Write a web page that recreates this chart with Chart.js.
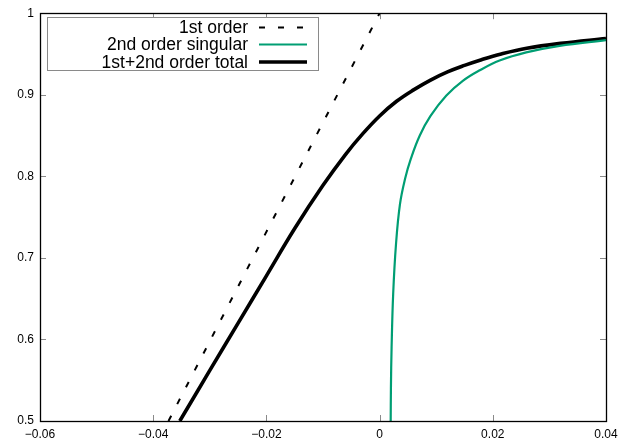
<!DOCTYPE html>
<html>
<head>
<meta charset="utf-8">
<script src="https://cdn.jsdelivr.net/npm/chart.js@4"></script>
<style>
	html, body { margin: 0; padding: 0; background: #fff; }
	canvas { display: block; }
</style>
</head>
<body>
<canvas id="chart" width="626" height="444"></canvas>
<script>
// values
const xTicks = [-0.06, -0.04, -0.02, 0, 0.02, 0.04];
const yTicks = [0.5, 0.6, 0.7, 0.8, 0.9, 1];

const seriesLabels = ['1st order', '2nd order singular', '1st+2nd order total'];

const firstOrderX = [-0.0373, 0];
const firstOrderY = [0.5, 1.0];

const singularX = [0.00196, 0.0020, 0.00212, 0.0024, 0.0029, 0.0036, 0.0045, 0.0055,
	0.0071, 0.0090, 0.0118, 0.0147, 0.0177, 0.0212, 0.0259, 0.0318, 0.0400];
const singularY = [0.50, 0.54, 0.59, 0.656, 0.717, 0.766, 0.797, 0.821,
	0.850, 0.874, 0.899, 0.917, 0.930, 0.942, 0.952, 0.960, 0.967];

const totalX = [-0.0353, -0.0300, -0.0250, -0.0200, -0.0150, -0.0100, -0.0060, -0.0030,
	0, 0.0030, 0.0060, 0.0090, 0.0120, 0.0150, 0.0180, 0.0215, 0.0260, 0.0320, 0.0400];
const totalY = [0.500, 0.562, 0.620, 0.678, 0.736, 0.789, 0.827, 0.852,
	0.874, 0.892, 0.906, 0.918, 0.928, 0.936, 0.943, 0.950, 0.957, 0.963, 0.969];

const FONT = "'Liberation Sans', Arial, Helvetica, sans-serif";

function toPoints(xs, ys) {
	return xs.map((x, i) => ({ x: x, y: ys[i] }));
}

function fmt(v, digits) {
	if (Math.abs(v) < 1e-9) return '0';
	if (Math.abs(v - 1) < 1e-9) return '1';
	return v.toFixed(digits).replace('-', '\u2212');
}

// gnuplot style frame: black border, short grey ticks pointing inward on all sides
const framePlugin = {
	id: 'frame',
	afterDatasetsDraw(chart) {
		const ctx = chart.ctx;
		const a = chart.chartArea;
		const xs = chart.scales.x, ys = chart.scales.y;
		const len = 6;
		ctx.save();
		ctx.strokeStyle = '#8a8a8a';
		ctx.lineWidth = 1;
		ctx.beginPath();
		xs.ticks.forEach((t) => {
			const px = Math.round(xs.getPixelForValue(t.value)) + 0.5;
			ctx.moveTo(px, a.bottom); ctx.lineTo(px, a.bottom - len);
			ctx.moveTo(px, a.top); ctx.lineTo(px, a.top + len);
		});
		ys.ticks.forEach((t) => {
			const py = Math.round(ys.getPixelForValue(t.value)) + 0.5;
			ctx.moveTo(a.left, py); ctx.lineTo(a.left + len, py);
			ctx.moveTo(a.right, py); ctx.lineTo(a.right - len, py);
		});
		ctx.stroke();
		ctx.strokeStyle = '#000';
		ctx.lineWidth = 1.3;
		ctx.strokeRect(Math.round(a.left) + 0.5, Math.round(a.top) + 0.5,
			Math.round(a.right - a.left), Math.round(a.bottom - a.top));
		ctx.restore();
	}
};

// key in the top left corner, text right-aligned with the sample line after it
const keyPlugin = {
	id: 'key',
	afterDraw(chart) {
		const ctx = chart.ctx;
		const box = { left: 47.5, top: 17.5, width: 271, height: 53 };
		const textRight = 248;
		const sampleLeft = 259, sampleRight = 307;
		const rowY = [27.5, 44.5, 62];
		ctx.save();
		ctx.fillStyle = '#fff';
		ctx.fillRect(box.left, box.top, box.width, box.height);
		ctx.strokeStyle = '#8a8a8a';
		ctx.lineWidth = 1;
		ctx.strokeRect(box.left, box.top, box.width, box.height);
		ctx.font = '17.5px ' + FONT;
		ctx.textAlign = 'right';
		ctx.textBaseline = 'middle';
		chart.data.datasets.forEach((ds, i) => {
			ctx.fillStyle = '#000';
			ctx.fillText(ds.label, textRight, rowY[i] + 1);
			ctx.strokeStyle = ds.borderColor;
			ctx.lineWidth = ds.borderWidth;
			ctx.setLineDash(ds.borderDash || []);
			ctx.beginPath();
			ctx.moveTo(sampleLeft, rowY[i]);
			ctx.lineTo(sampleRight, rowY[i]);
			ctx.stroke();
			ctx.setLineDash([]);
		});
		ctx.restore();
	}
};

new Chart(document.getElementById('chart'), {
	type: 'line',
	data: {
		datasets: [
			{
				label: seriesLabels[0],
				data: toPoints(firstOrderX, firstOrderY),
				borderColor: '#000',
				borderWidth: 2,
				borderDash: [6, 13],
				tension: 0
			},
			{
				label: seriesLabels[1],
				data: toPoints(singularX, singularY),
				borderColor: '#009e73',
				borderWidth: 2.2,
				tension: 0.4
			},
			{
				label: seriesLabels[2],
				data: toPoints(totalX, totalY),
				borderColor: '#000',
				borderWidth: 3.6,
				tension: 0.4
			}
		]
	},
	options: {
		responsive: false,
		animation: false,
		events: [],
		layout: { padding: { left: 0, right: 20, top: 12, bottom: 0 } },
		elements: { point: { radius: 0 } },
		scales: {
			x: {
				type: 'linear',
				min: -0.06,
				max: 0.04,
				afterBuildTicks: (scale) => { scale.ticks = xTicks.map((v) => ({ value: v })); },
				afterFit: (scale) => { scale.height = 23; },
				grid: { display: false, drawTicks: false },
				border: { display: false },
				ticks: {
					padding: 6,
					maxRotation: 0,
					color: '#000',
					font: { family: FONT, size: 12 },
					callback: (v) => fmt(v, 2)
				}
			},
			y: {
				min: 0.5,
				max: 1,
				afterBuildTicks: (scale) => { scale.ticks = yTicks.map((v) => ({ value: v })); },
				afterFit: (scale) => { scale.width = 40; },
				grid: { display: false, drawTicks: false },
				border: { display: false },
				ticks: {
					padding: 6,
					color: '#000',
					font: { family: FONT, size: 12 },
					callback: (v) => fmt(v, 1)
				}
			}
		},
		plugins: {
			legend: { display: false },
			tooltip: { enabled: false },
			title: { display: false }
		}
	},
	plugins: [framePlugin, keyPlugin]
});
</script>
</body>
</html>
